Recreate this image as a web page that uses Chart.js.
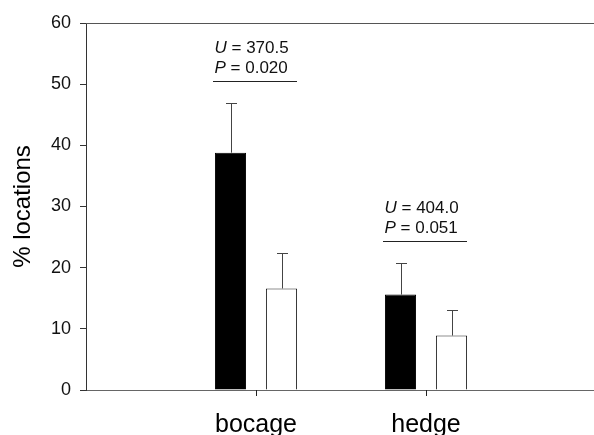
<!DOCTYPE html>
<html>
<head>
<meta charset="utf-8">
<script src="https://cdn.jsdelivr.net/npm/chart.js@4"></script>
<style>
  html, body { margin: 0; padding: 0; overflow: hidden; background: #fff; }
  #wrap { width: 594px; height: 435px; overflow: hidden; }
</style>
</head>
<body>
<div id="wrap"><canvas id="locCanvas" width="608" height="450"></canvas></div>
<script>
// habitat categories
var categories = ["bocage", "hedge"];
// black bars / white bars (% locations)
var blackValues = [38.8, 15.6];
var whiteValues = [16.6, 8.9];
// upper error (SE) for each bar
var blackErrors = [8.2, 5.2];
var whiteErrors = [5.8, 4.2];
// Mann-Whitney results per category
var uValues = ["370.5", "404.0"];
var pValues = ["0.020", "0.051"];
var yTicks = [0, 10, 20, 30, 40, 50, 60];

// empty slot at each end so the categories sit at 1/3 and 2/3 of the axis
var labels = [""].concat(categories, [""]);
var blackData = [null].concat(blackValues, [null]);
var whiteData = [null].concat(whiteValues, [null]);
var blackErr = [null].concat(blackErrors, [null]);
var whiteErr = [null].concat(whiteErrors, [null]);

Chart.defaults.font.family = "'Liberation Sans', Arial, sans-serif";
Chart.defaults.color = "#000";

var errorBars = {
  id: "errorBars",
  afterDatasetsDraw: function(chart) {
    var ctx = chart.ctx;
    var yScale = chart.scales.y;
    ctx.save();
    chart.data.datasets.forEach(function(ds, di) {
      var meta = chart.getDatasetMeta(di);
      meta.data.forEach(function(bar, i) {
        var v = ds.data[i], e = ds.errors[i];
        if (v == null || e == null) return;
        var yTop = yScale.getPixelForValue(v + e);
        ctx.strokeStyle = "#444";
        ctx.lineWidth = 1;
        ctx.beginPath();
        ctx.moveTo(Math.round(bar.x) + 0.5, bar.y);
        ctx.lineTo(Math.round(bar.x) + 0.5, Math.round(yTop) + 0.5);
        ctx.moveTo(Math.round(bar.x) - 5, Math.round(yTop) + 0.5);
        ctx.lineTo(Math.round(bar.x) + 6, Math.round(yTop) + 0.5);
        ctx.stroke();
      });
    });
    ctx.restore();
  }
};

var frameAndStats = {
  id: "frameAndStats",
  afterDraw: function(chart) {
    var ctx = chart.ctx;
    var area = chart.chartArea;
    var x = chart.scales.x, y = chart.scales.y;
    ctx.save();
    // top frame line
    ctx.strokeStyle = "#555";
    ctx.lineWidth = 1;
    ctx.beginPath();
    ctx.moveTo(area.left, Math.round(area.top) + 0.5);
    ctx.lineTo(area.right, Math.round(area.top) + 0.5);
    ctx.stroke();

    categories.forEach(function(c, i) {
      var cx = x.getPixelForValue(i + 1);
      // category tick mark under the axis
      ctx.strokeStyle = "#222";
      ctx.beginPath();
      ctx.moveTo(Math.round(cx) + 0.5, area.bottom);
      ctx.lineTo(Math.round(cx) + 0.5, area.bottom + 6);
      ctx.stroke();

      var top = Math.max(blackValues[i] + blackErrors[i], whiteValues[i] + whiteErrors[i]);
      var ly = Math.round(y.getPixelForValue(top + 3.5)) + 0.5;
      var x0 = cx - 43, x1 = cx + 41;
      ctx.beginPath();
      ctx.moveTo(x0, ly);
      ctx.lineTo(x1, ly);
      ctx.stroke();

      ctx.fillStyle = "#111";
      ctx.textBaseline = "middle";
      ctx.textAlign = "left";
      var rows = [["U", uValues[i]], ["P", pValues[i]]];
      rows.forEach(function(r, k) {
        var ty = ly - 13 - (1 - k) * 20;
        ctx.font = "italic 17px 'Liberation Sans', Arial, sans-serif";
        ctx.fillText(r[0], x0 + 1.5, ty);
        var w = ctx.measureText(r[0]).width;
        ctx.font = "17px 'Liberation Sans', Arial, sans-serif";
        ctx.fillText(" = " + r[1], x0 + 1.5 + w, ty);
      });
    });
    ctx.restore();
  }
};

new Chart(document.getElementById("locCanvas"), {
  type: "bar",
  data: {
    labels: labels,
    datasets: [{
      data: blackData,
      errors: blackErr,
      backgroundColor: "#000",
      borderColor: "#000",
      borderWidth: 1,
      categoryPercentage: 0.6,
      barPercentage: 0.61
    }, {
      data: whiteData,
      errors: whiteErr,
      backgroundColor: "#fff",
      borderColor: "#222",
      borderWidth: 1,
      categoryPercentage: 0.6,
      barPercentage: 0.61
    }]
  },
  options: {
    responsive: false,
    animation: false,
    layout: { padding: { top: 23, left: 0, right: 0, bottom: 0 } },
    plugins: { legend: { display: false }, tooltip: { enabled: false } },
    scales: {
      x: {
        offset: false,
        grid: { display: false },
        border: { display: true, color: "#666", width: 1 },
        ticks: { font: { size: 25 }, color: "#000", padding: 12, maxRotation: 0, autoSkip: false },
        afterFit: function(s) { s.height = 60; }
      },
      y: {
        min: 0,
        max: 60,
        afterBuildTicks: function(s) { s.ticks = yTicks.map(function(v) { return { value: v }; }); },
        grid: { drawOnChartArea: false, drawTicks: true, tickLength: 6, tickColor: "#333" },
        border: { display: true, color: "#333", width: 1 },
        ticks: { font: { size: 18 }, color: "#111", padding: 9 },
        title: { display: true, text: "% locations", font: { size: 24 }, color: "#000", padding: { top: 9, bottom: 0 } },
        afterFit: function(s) { s.width = 86; }
      }
    }
  },
  plugins: [errorBars, frameAndStats]
});
</script>
</body>
</html>
